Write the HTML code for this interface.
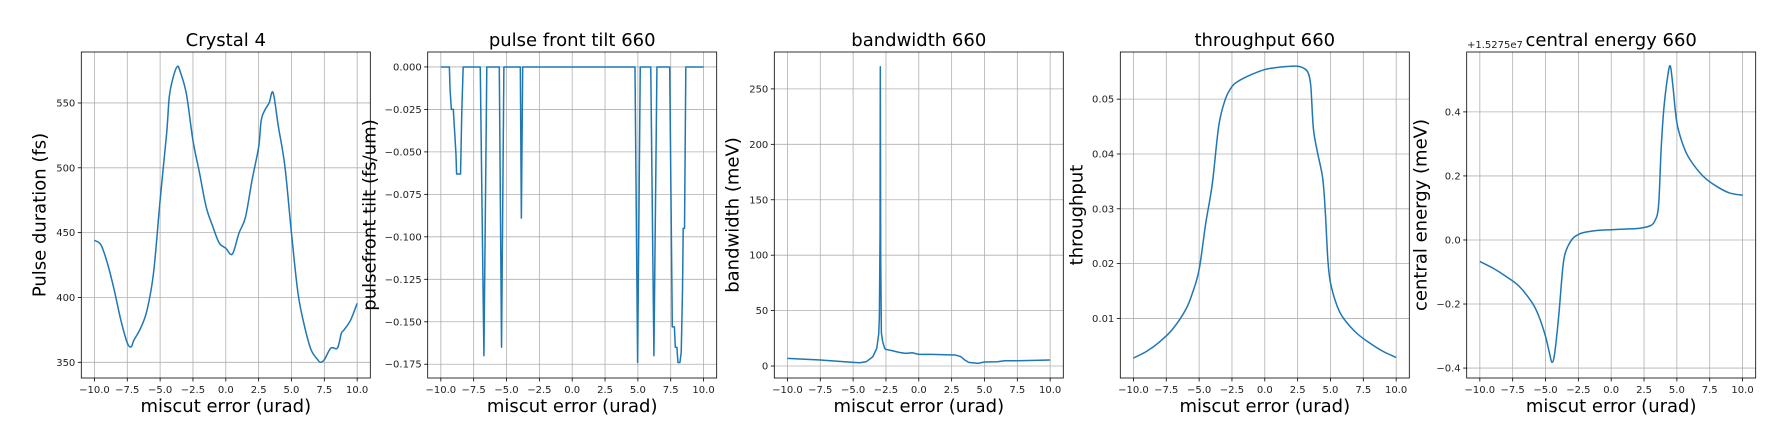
<!DOCTYPE html>
<html><head><meta charset="utf-8"><style>
html,body{margin:0;padding:0;background:#fff;}
svg{display:block;font-family:"DejaVu Sans","Liberation Sans",sans-serif;}
</style></head><body>
<svg id="fig" width="1781" height="432" xmlns="http://www.w3.org/2000/svg"></svg>
<script>
// ---- data ----
const p1X = [-10,-9.5,-9,-8.5,-8,-7.5,-7.2,-7,-6.5,-6,-5.5,-5,-4.5,-4.3,-4,-3.7,-3.5,-3,-2.5,-2,-1.5,-1,-0.5,0,0.5,1,1.5,2,2.5,2.7,3,3.3,3.6,4,4.5,5,5.5,6,6.5,7,7.2,7.5,8,8.5,8.8,9,9.5,10];
const p1Y = [444,440.5,426,406,383,365,362,367,376,390,419,475,527,555,570,578,575,557,521,496,470,455,442,438,433.5,449.5,462,490.6,516,537,545,550,558,532,501,449.5,403,377.5,359.5,352,350,352,361,361,372.5,375,382.6,395.5];
const p2X = [-10,-9.35,-9.3,-9.2,-9.05,-8.95,-8.85,-8.8,-8.5,-8.4,-8.3,-7.0,-6.72,-6.5,-5.55,-5.38,-5.2,-3.95,-3.87,-3.77,4.78,4.98,5.18,5.98,6.22,6.45,7.42,7.62,7.78,7.85,7.97,8.05,8.2,8.3,8.4,8.45,8.55,8.65,10];
const p2Y = [0,0,-0.013,-0.025,-0.025,-0.038,-0.051,-0.063,-0.063,-0.025,0,0,-0.170,0,0,-0.165,0,0,-0.089,0,0,-0.174,0,0,-0.170,0,0,-0.153,-0.153,-0.165,-0.165,-0.174,-0.174,-0.168,-0.130,-0.095,-0.095,0,0];
const p3X = [-10,-7.5,-5,-4.5,-4,-3.5,-3.2,-3.05,-3.0,-2.95,-2.93,-2.9,-2.85,-2.75,-2.6,-2.5,-2,-1.5,-1,-0.5,0,1,2,2.8,3.2,3.5,3.8,4.5,5,6,6.5,7.5,10];
const p3Y = [6.9,5.4,3.3,3,3.9,8.4,16,29,45,120,270,100,30,22,16,15,13.8,12.3,11.4,12,10.5,10.5,10.2,9.9,8.4,5.4,3.3,2.4,3.6,3.9,4.8,4.8,5.4];
const p4X = [-10,-9,-8,-7,-6,-5.5,-5,-4.5,-4,-3.5,-3,-2.5,-2,-1,0,1,2,2.5,3,3.3,3.5,3.7,4,4.4,4.6,4.8,5,5.5,6,7,8,9,10];
const p4Y = [0.00278,0.0040,0.00575,0.0081,0.0117,0.0147,0.0189,0.0273,0.0345,0.0452,0.0500,0.0523,0.0533,0.0545,0.0554,0.0558,0.0560,0.0560,0.0556,0.0548,0.0524,0.0446,0.0404,0.0357,0.0297,0.0207,0.0165,0.0123,0.0100,0.0073,0.0055,0.0040,0.0029];
const p5X = [-10,-9,-8,-7,-6,-5.5,-5,-4.7,-4.5,-4.3,-4,-3.7,-3.5,-3,-2.5,-2,-1,0,1,2,2.5,3,3.3,3.6,3.8,4,4.3,4.5,4.7,5,5.5,6,7,8,9,10];
const p5Y = [-0.067,-0.088,-0.114,-0.145,-0.197,-0.239,-0.301,-0.353,-0.382,-0.353,-0.239,-0.093,-0.041,0.001,0.017,0.024,0.030,0.032,0.034,0.036,0.039,0.045,0.058,0.105,0.282,0.407,0.511,0.543,0.480,0.366,0.293,0.251,0.199,0.168,0.147,0.140];
const xTicks = [-10,-7.5,-5,-2.5,0,2.5,5,7.5,10];
const p1Ticks = [350,400,450,500,550];
const p2Ticks = [0,-0.025,-0.05,-0.075,-0.1,-0.125,-0.15,-0.175];
const p3Ticks = [0,50,100,150,200,250];
const p4Ticks = [0.01,0.02,0.03,0.04,0.05];
const p5Ticks = [-0.4,-0.2,0,0.2,0.4];

const NS = "http://www.w3.org/2000/svg";
const fig = document.getElementById('fig');
function mk(tag, attrs, parent){
  const e = document.createElementNS(NS, tag);
  for (const k in attrs) e.setAttribute(k, attrs[k]);
  (parent||fig).appendChild(e);
  return e;
}
function fmt(v, d){ const s = Math.abs(v).toFixed(d); return (v < -1e-12 ? "\u2212" : "") + s; }

const TOP = 52, BOT = 378, W = 289;
const panels = [
  {id:'crystal-4', left:81.3, ymin:337.9, ymax:589.3, xs:p1X, ys:p1Y, ticks:p1Ticks, dec:0, title:'Crystal 4', ylabel:'Pulse duration (fs)', ylx:40, smooth:true},
  {id:'pulse-front-tilt', left:427.7, ymin:-0.1831, ymax:0.0088, xs:p2X, ys:p2Y, ticks:p2Ticks, dec:3, title:'pulse front tilt 660', ylabel:'pulsefront tilt (fs/um)', ylx:370, smooth:false},
  {id:'bandwidth', left:774.3, ymin:-10.8, ymax:283.3, xs:p3X, ys:p3Y, ticks:p3Ticks, dec:0, title:'bandwidth 660', ylabel:'bandwidth (meV)', ylx:733, smooth:false},
  {id:'throughput', left:1120.3, ymin:-0.00086, ymax:0.0586, xs:p4X, ys:p4Y, ticks:p4Ticks, dec:2, title:'throughput 660', ylabel:'throughput', ylx:1077, smooth:true},
  {id:'central-energy', left:1466.7, ymin:-0.431, ymax:0.587, xs:p5X, ys:p5Y, ticks:p5Ticks, dec:1, title:'central energy 660', ylabel:'central energy (meV)', ylx:1421, smooth:true}
];

function pathFor(pts, smooth){
  if (!smooth) return pts.map((q,i)=>(i?'L':'M')+q[0].toFixed(2)+','+q[1].toFixed(2)).join('');
  let d = 'M'+pts[0][0].toFixed(2)+','+pts[0][1].toFixed(2);
  for (let i=0;i<pts.length-1;i++){
    const p0 = pts[Math.max(0,i-1)], p1 = pts[i], p2 = pts[i+1], p3 = pts[Math.min(pts.length-1,i+2)];
    const t = 1/6;
    const c1 = [p1[0]+(p2[0]-p0[0])*t, p1[1]+(p2[1]-p0[1])*t];
    const c2 = [p2[0]-(p3[0]-p1[0])*t, p2[1]-(p3[1]-p1[1])*t];
    d += 'C'+c1[0].toFixed(2)+','+c1[1].toFixed(2)+' '+c2[0].toFixed(2)+','+c2[1].toFixed(2)+' '+p2[0].toFixed(2)+','+p2[1].toFixed(2);
  }
  return d;
}

panels.forEach(p => {
  const g = mk('g', {});
  
  
  const L = p.left, R = p.left + W;
  const sx = v => L + (v + 11) / 22 * W;
  const sy = v => BOT - (v - p.ymin) / (p.ymax - p.ymin) * (BOT - TOP);
  xTicks.forEach(t => {
    const x = sx(t);
    const gl = mk('line', {x1:x, x2:x, y1:TOP, y2:BOT, stroke:'#b0b0b0', 'stroke-width':0.8}, g);
    
    
    mk('line', {x1:x, x2:x, y1:BOT, y2:BOT+3.5, stroke:'#000', 'stroke-width':0.8}, g);
    const tl = mk('text', {x:x, y:BOT+15, 'font-size':10, 'text-anchor':'middle', fill:'#222'}, g);
    
    
    tl.textContent = fmt(t, 1);
  });
  p.ticks.forEach(t => {
    const y = sy(t);
    const gl = mk('line', {x1:L, x2:R, y1:y, y2:y, stroke:'#b0b0b0', 'stroke-width':0.8}, g);
    
    
    mk('line', {x1:L-3.5, x2:L, y1:y, y2:y, stroke:'#000', 'stroke-width':0.8}, g);
    const tl = mk('text', {x:L-6, y:y+3.5, 'font-size':10, 'text-anchor':'end', fill:'#222'}, g);
    
    
    tl.textContent = fmt(t, p.dec);
  });
  const pts = p.xs.map((v, i) => [sx(v), sy(p.ys[i])]);
  const line = mk('path', {d:pathFor(pts, p.smooth), fill:'none', stroke:'#1f77b4', 'stroke-width':1.5, 'stroke-linejoin':'round'}, g);
  
  
  const fr = mk('rect', {x:L, y:TOP, width:W, height:BOT-TOP, fill:'none', stroke:'#000', 'stroke-width':0.8}, g);
  
  
  const tt = mk('text', {x:L+W/2, y:46, 'font-size':18, 'text-anchor':'middle', fill:'#000'}, g);
  
  
  tt.textContent = p.title;
  const xl = mk('text', {x:L+W/2, y:412, 'font-size':18, 'text-anchor':'middle', fill:'#000'}, g);
  
  
  xl.textContent = 'miscut error (urad)';
  const cy = (TOP+BOT)/2;
  const yl = mk('text', {x:p.ylx, y:cy, 'font-size':18, 'text-anchor':'middle', 'dominant-baseline':'central', fill:'#000', transform:'rotate(-90 '+p.ylx+' '+cy+')'}, g);
  
  
  yl.textContent = p.ylabel;
});
const off = mk('text', {x:1467, y:48, 'font-size':10, fill:'#222'});


off.textContent = '+1.5275e7';
</script>
</body></html>
